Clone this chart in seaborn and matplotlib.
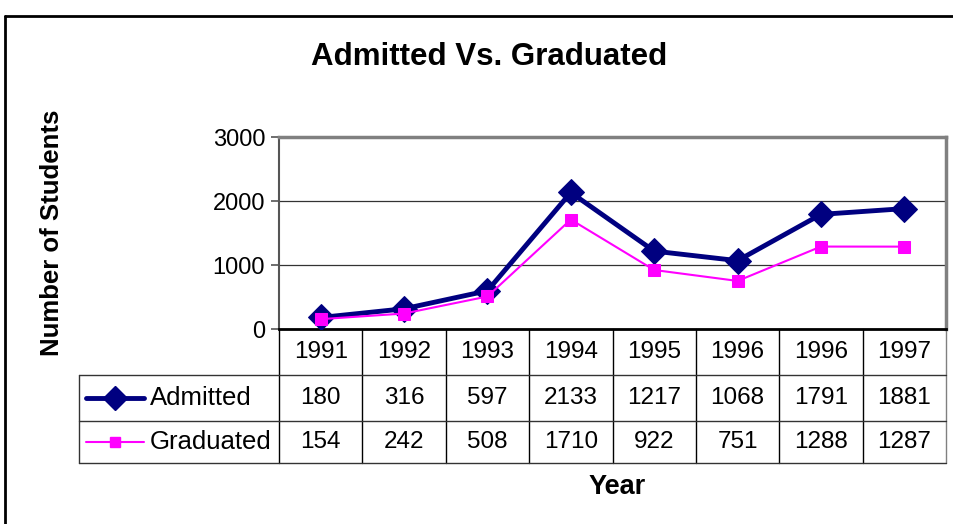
import numpy as np
import seaborn as sns
import matplotlib.pyplot as plt
from matplotlib.lines import Line2D

# chart data
years = ['1991', '1992', '1993', '1994', '1995', '1996', '1996', '1997']
admitted = [180, 316, 597, 2133, 1217, 1068, 1791, 1881]
graduated = [154, 242, 508, 1710, 922, 751, 1288, 1287]
series_names = ['Admitted', 'Graduated']
yticks = [0, 1000, 2000, 3000]

sns.set_style('white')
plt.rcParams['font.family'] = ['Liberation Sans', 'DejaVu Sans']
plt.rcParams['text.color'] = 'black'
plt.rcParams['ytick.color'] = 'black'

navy = '#000080'
magenta = '#FF00FF'
fs = 17.5

fig = plt.figure(figsize=(9.54, 5.24), dpi=100)
ax = fig.add_axes([279 / 954, 1 - 329 / 524, 667 / 954, 192 / 524])

pos = np.arange(len(years))
sns.lineplot(x=pos, y=admitted, ax=ax, color=navy, lw=3.5, marker='D',
             markersize=13, markeredgecolor=navy, markerfacecolor=navy, zorder=3)
sns.lineplot(x=pos, y=graduated, ax=ax, color=magenta, lw=1.5, marker='s',
             markersize=8.5, markeredgecolor=magenta, markerfacecolor=magenta, zorder=4)

ax.set_xlim(-0.5, len(years) - 0.5)
ax.set_ylim(0, 3000)
ax.set_yticks(yticks)
ax.set_yticklabels([str(t) for t in yticks], fontsize=17)
ax.set_xticks([])
ax.tick_params(axis='y', direction='out', length=6, width=1.2, color='#555555', pad=4, left=True)
ax.yaxis.grid(True, color='#333333', lw=0.9)
ax.set_axisbelow(True)

ax.spines['top'].set_color('#808080')
ax.spines['top'].set_linewidth(2.5)
ax.spines['right'].set_color('#808080')
ax.spines['right'].set_linewidth(2.5)
ax.spines['left'].set_color('#555555')
ax.spines['left'].set_linewidth(1.5)
ax.spines['bottom'].set_color('black')
ax.spines['bottom'].set_linewidth(2)

# data table below the plot
trans = ax.get_xaxis_transform()
row_y = [0, -0.2396, -0.479, -0.698]
leg_left = -0.2999

for k in range(len(years) + 1):
    ax.plot([k - 0.5, k - 0.5], [row_y[0], row_y[-1]], transform=trans,
            color='#808080' if k == len(years) else 'black', lw=1, clip_on=False)
for y in row_y[1:]:
    ax.plot([leg_left, 1], [y, y], transform=ax.transAxes, color='#333333', lw=1, clip_on=False)
ax.plot([leg_left, leg_left], [row_y[1], row_y[-1]], transform=ax.transAxes,
        color='#333333', lw=1, clip_on=False)

for i, yr in enumerate(years):
    ax.text(i, (row_y[0] + row_y[1]) / 2, yr, transform=trans, ha='center', va='center', fontsize=fs)
    ax.text(i, (row_y[1] + row_y[2]) / 2, str(admitted[i]), transform=trans, ha='center', va='center', fontsize=fs)
    ax.text(i, (row_y[2] + row_y[3]) / 2, str(graduated[i]), transform=trans, ha='center', va='center', fontsize=fs)

# legend keys inside the table
styles = [(navy, 3.5, 'D', 12), (magenta, 1.5, 's', 7.5)]
for r, (name, (c, lw, m, ms)) in enumerate(zip(series_names, styles)):
    yc = (row_y[r + 1] + row_y[r + 2]) / 2
    ax.add_line(Line2D([-0.2894, -0.2024], [yc, yc], transform=ax.transAxes, color=c, lw=lw, clip_on=False))
    ax.add_line(Line2D([-0.2459], [yc], transform=ax.transAxes, color=c, marker=m, markersize=ms,
                       markeredgecolor=c, clip_on=False))
    ax.text(-0.1934, yc, name, transform=ax.transAxes, ha='left', va='center', fontsize=18.5)

# titles
fig.text(489 / 954, 1 - 57 / 524, 'Admitted Vs. Graduated', ha='center', va='center',
         fontsize=22.5, fontweight='bold')
fig.text(52 / 954, 1 - 233 / 524, 'Number of Students', ha='center', va='center',
         rotation=90, fontsize=18.5, fontweight='bold')
fig.text(617 / 954, 1 - 487 / 524, 'Year', ha='center', va='center', fontsize=19.5, fontweight='bold')

# outer chart frame
fig.add_artist(Line2D([5 / 954, 1], [1 - 16 / 524, 1 - 16 / 524], color='black', lw=2))
fig.add_artist(Line2D([5 / 954, 5 / 954], [0, 1 - 16 / 524], color='black', lw=2))

fig.savefig('out.png', dpi=100)
